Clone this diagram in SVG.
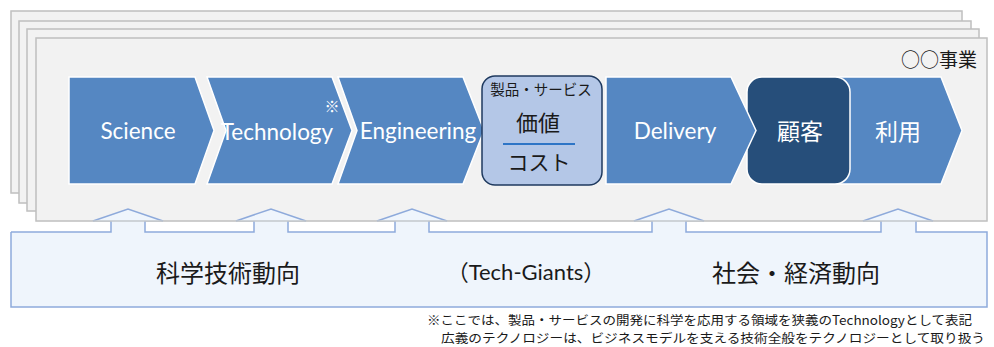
<svg xmlns="http://www.w3.org/2000/svg" width="994" height="347" viewBox="0 0 994 347">
<defs>
<style>
.frame{fill:#f2f2f2;stroke:#bfbfbf;stroke-width:1.5}
.chev{fill:#5587c2;stroke:#ffffff;stroke-width:1.5}
.en{font-family:Lato,"Noto Sans CJK JP",sans-serif;fill:#ffffff;font-size:22.5px;text-anchor:middle;dominant-baseline:central}
.jw{font-family:"Noto Sans CJK JP",sans-serif;fill:#ffffff;font-size:23px;text-anchor:middle;dominant-baseline:central}
.jb{font-family:"Noto Sans CJK JP",sans-serif;fill:#1a1a1a;text-anchor:middle;dominant-baseline:central}
.note{font-family:"Noto Sans CJK JP",sans-serif;fill:#1a1a1a;font-size:12.5px}
.trend{fill:#eff5fc;stroke:none}
.trendline{fill:none;stroke:#8eaadb;stroke-width:1.5}
</style>
</defs>
<g id="frames">
<rect class="frame" x="11" y="11" width="951" height="182"/>
<rect class="frame" x="19" y="21" width="952" height="182"/>
<rect class="frame" x="27" y="29" width="952" height="182"/>
<rect class="frame" x="36" y="38" width="951" height="183"/>
<text class="jb" x="977" y="58" style="font-size:19px;text-anchor:end">○○事業</text>
</g>
<g id="trends">
<path class="trend" d="M11 232 L111 232 L111 221 L93 221 L128 209 L163 221 L145 221 L145 232 L254 232 L254 221 L236 221 L271 209 L306 221 L288 221 L288 232 L395 232 L395 221 L377 221 L412 209 L447 221 L429 221 L429 232 L652 232 L652 221 L634 221 L669 209 L704 221 L686 221 L686 232 L881 232 L881 221 L863 221 L898 209 L933 221 L916 221 L916 232 L987 232 L987 307 L11 307 Z"/>
<path class="trendline" d="M11 232 L111 232 L111 221 M93 221 L128 209 L163 221 M145 221 L145 232 L254 232 L254 221 M236 221 L271 209 L306 221 M288 221 L288 232 L395 232 L395 221 M377 221 L412 209 L447 221 M429 221 L429 232 L652 232 L652 221 M634 221 L669 209 L704 221 M686 221 L686 232 L881 232 L881 221 M863 221 L898 209 L933 221 M916 221 L916 232 L987 232 L987 307 L11 307 L11 232"/>
<path d="M93 221 L163 221 M236 221 L306 221 M377 221 L447 221 M634 221 L704 221 M863 221 L933 221" stroke="#c4c8cc" stroke-width="1.5"/>
<text class="jb" x="228" y="271" style="font-size:24px">科学技術動向</text>
<text class="jb" x="526" y="271" style="font-size:22px;font-family:Lato,'Noto Sans CJK JP',sans-serif">（Tech-Giants）</text>
<text class="jb" x="796" y="271" style="font-size:24px">社会・経済動向</text>
</g>
<g id="connectors"></g>
<g id="riyo">
<path class="chev" d="M830 77 L941 77 L962 130.5 L941 184 L830 184 Z"/>
<text class="jw" x="898" y="130">利用</text>
</g>
<g id="kokyaku">
<rect x="747" y="77" width="103" height="107" rx="15" fill="#264e7a" stroke="#ffffff" stroke-width="1.5"/>
<text class="jw" x="800" y="130">顧客</text>
</g>
<g id="science">
<path class="chev" d="M69 77 L195 77 L214 130.5 L195 184 L69 184 Z"/>
<text class="en" x="138" y="130">Science</text>
</g>
<g id="technology">
<path class="chev" d="M207 77 L332 77 L352 130.5 L332 184 L207 184 L226 130.5 Z"/>
<text class="en" x="277" y="131">Technology</text>
<text x="332" y="105" style="font-family:'Noto Sans CJK JP',sans-serif;font-size:15px;fill:#ffffff;text-anchor:middle;dominant-baseline:central">※</text>
</g>
<g id="engineering">
<path class="chev" d="M338 77 L463 77 L484 130.5 L463 184 L338 184 L357 130.5 Z"/>
<text class="en" x="418" y="130">Engineering</text>
</g>
<g id="product">
<rect x="482" y="76" width="120" height="109" rx="13" fill="#b4c7e7" stroke="#1f3a5f" stroke-width="1.5"/>
<text class="jb" x="541" y="88" style="font-size:14.5px">製品・サービス</text>
<text class="jb" x="538" y="121" style="font-size:22px">価値</text>
<line x1="503" y1="144" x2="575" y2="144" stroke="#2e75c6" stroke-width="2"/>
<text class="jb" x="539" y="161" style="font-size:21px">コスト</text>
</g>
<g id="delivery">
<path class="chev" d="M606 77 L731 77 L756 130.5 L731 184 L606 184 Z"/>
<text class="en" x="675" y="130">Delivery</text>
</g>
<g id="notes">
<text class="note" x="427" y="325" textLength="545" lengthAdjust="spacingAndGlyphs">※ここでは、製品・サービスの開発に科学を応用する領域を狭義のTechnologyとして表記</text>
<text class="note" x="441" y="343" textLength="544" lengthAdjust="spacingAndGlyphs">広義のテクノロジーは、ビジネスモデルを支える技術全般をテクノロジーとして取り扱う</text>
</g>
</svg>
